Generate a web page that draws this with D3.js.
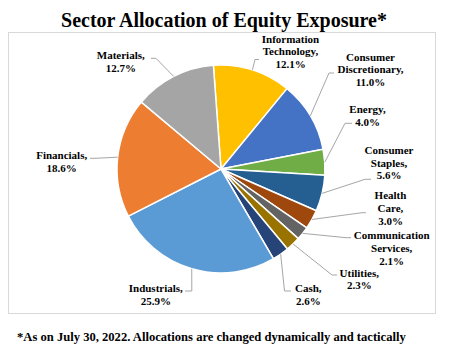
<!DOCTYPE html>
<html>
<head>
<meta charset="utf-8">
<script src="https://cdn.jsdelivr.net/npm/d3@7"></script>
<style>
  html, body { margin: 0; padding: 0; background: #fff; }
  svg { display: block; }
  text { font-family: "Liberation Serif", "Times New Roman", serif; font-weight: bold; fill: #000; }
</style>
</head>
<body>
<svg id="chart" width="450" height="357"></svg>
<script>
// ---- data ----
const categories = ["Information Technology", "Consumer Discretionary", "Energy", "Consumer Staples",
  "Health Care", "Communication Services", "Utilities", "Cash", "Industrials", "Financials", "Materials"];
const values = [12.1, 11.0, 4.0, 5.6, 3.0, 2.1, 2.3, 2.6, 25.9, 18.6, 12.7];
const labelNames = [["Information", "Technology,"], ["Consumer", "Discretionary,"], ["Energy,"],
  ["Consumer", "Staples,"], ["Health", "Care,"], ["Communication", "Services,"], ["Utilities,"],
  ["Cash,"], ["Industrials,"], ["Financials,"], ["Materials,"]];
const colors = ["#FFC000", "#4472C4", "#70AD47", "#255E91", "#9E480E", "#636363", "#997300",
  "#264478", "#5B9BD5", "#ED7D31", "#A5A5A5"];
const titleText = "Sector Allocation of Equity Exposure*";
const footnoteText = "*As on July 30, 2022. Allocations are changed dynamically and tactically";

// ---- layout (label placement, not data) ----
const labelLayout = [
  { x: 290.5, y: 42.5, bx: 255, ex: 259, ey: 59.5 },
  { x: 370.5, y: 60.5, bx: 329, ex: 334, ey: 73 },
  { x: 367.5, y: 113, bx: 345, ex: 352, ey: 123.3 },
  { x: 389, y: 154, bx: 365, ex: 371, ey: 179.3 },
  { x: 390.5, y: 199.3, bx: 362, ex: 366, ey: 212.7 },
  { x: 391.7, y: 239.3, bx: 346, ex: 351, ey: 237.7 },
  { x: 359.3, y: 276.7, bx: 332, ex: 337, ey: 275 },
  { x: 308.3, y: 292.3, bx: 284.5, ex: 291, ey: 291 },
  { x: 155.8, y: 292.3, bx: 191.8, ex: 185, ey: 291 },
  { x: 61.7, y: 159.3, bx: 95, ex: 90, ey: 158.3 },
  { x: 120.8, y: 59.3, bx: 156, ex: 151, ey: 58.3 }
];

const svg = d3.select("#chart");
const cx = 221, cy = 169, R = 104;
const start = -4.2 * Math.PI / 180;

// frame
svg.append("rect").attr("x", 8.5).attr("y", 32.5).attr("width", 427).attr("height", 281)
  .attr("fill", "none").attr("stroke", "#d9d9d9").attr("stroke-width", 1);

// title
svg.append("text").attr("x", 224).attr("y", 27).attr("text-anchor", "middle")
  .style("font-size", "20px").text(titleText);

// footnote
svg.append("text").attr("x", 17).attr("y", 341).style("font-size", "12.6px").text(footnoteText);

const pie = d3.pie().sort(null).value(d => d).startAngle(start).endAngle(start + 2 * Math.PI);
const arcs = pie(values);
const arc = d3.arc().innerRadius(0).outerRadius(R);
const edge = d3.arc().innerRadius(R).outerRadius(R);

const g = svg.append("g").attr("transform", `translate(${cx},${cy})`);
g.selectAll("path.slice").data(arcs).enter().append("path")
  .attr("class", "slice")
  .attr("d", arc)
  .attr("fill", (d, i) => colors[i])
  .attr("stroke", "#fff").attr("stroke-width", 1.5).attr("stroke-linejoin", "round");

// leader lines
const lineG = svg.append("g");
arcs.forEach((d, i) => {
  const L = labelLayout[i];
  const p = edge.centroid(d);
  const pts = [[p[0] + cx, p[1] + cy], [L.bx, L.ey], [L.ex, L.ey]];
  lineG.append("path").attr("d", d3.line()(pts))
    .attr("fill", "none").attr("stroke", "#a6a6a6").attr("stroke-width", 1);
});

// labels
const fmt = v => v.toFixed(1) + "%";
arcs.forEach((d, i) => {
  const L = labelLayout[i];
  const lines = labelNames[i].concat([fmt(values[i])]);
  const t = svg.append("text").attr("text-anchor", "middle").style("font-size", "11px");
  lines.forEach((s, k) => {
    t.append("tspan").attr("x", L.x).attr("y", L.y + k * 12.6).text(s);
  });
});
</script>
</body>
</html>
